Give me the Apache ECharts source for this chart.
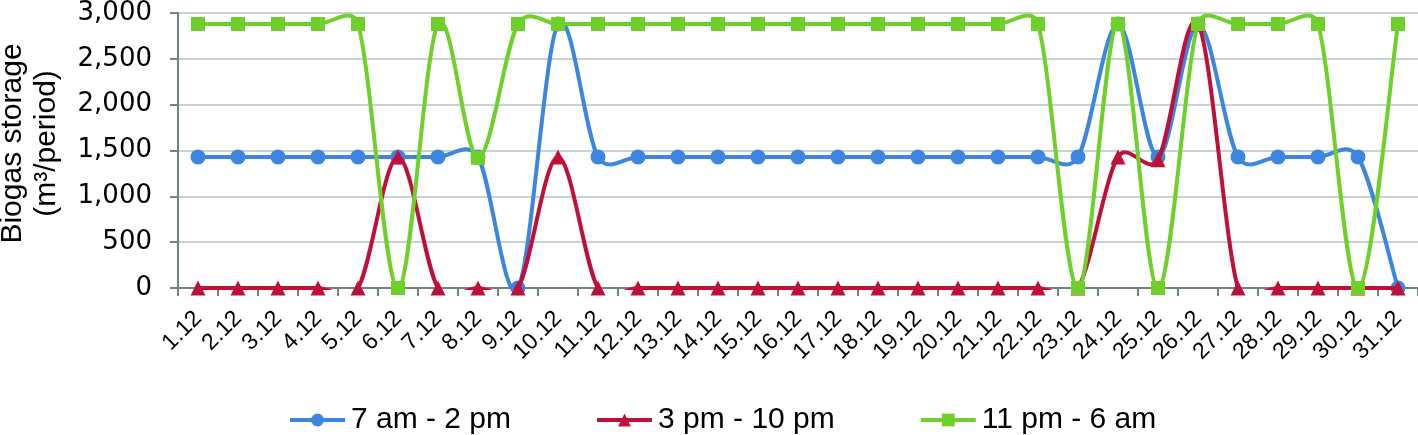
<!DOCTYPE html>
<html>
<head>
<meta charset="utf-8">
<script src="https://cdn.jsdelivr.net/npm/echarts@6/dist/echarts.min.js"></script>
<style>
html,body{margin:0;padding:0;background:#fff;}
#chart{width:1418px;height:435px;}
</style>
</head>
<body>
<div id="chart"></div>
<script>
const categories = ['1.12','2.12','3.12','4.12','5.12','6.12','7.12','8.12','9.12','10.12','11.12','12.12','13.12','14.12','15.12','16.12','17.12','18.12','19.12','20.12','21.12','22.12','23.12','24.12','25.12','26.12','27.12','28.12','29.12','30.12','31.12'];
const seriesNames = ['7 am - 2 pm','3 pm - 10 pm','11 pm - 6 am'];
const morning = [1430,1430,1430,1430,1430,1430,1430,1430,0,2880,1430,1430,1430,1430,1430,1430,1430,1430,1430,1430,1430,1430,1430,2880,1430,2880,1430,1430,1430,1430,0];
const afternoon = [0,0,0,0,0,1430,0,0,0,1430,0,0,0,0,0,0,0,0,0,0,0,0,0,1430,1400,2880,0,0,0,0,0];
const night = [2880,2880,2880,2880,2880,0,2880,1420,2880,2880,2880,2880,2880,2880,2880,2880,2880,2880,2880,2880,2880,2880,0,2880,0,2880,2880,2880,2880,0,2880];
const yTicks = [0,500,1000,1500,2000,2500,3000];

const colors = ['#3d86e0','#c0103a','#70d02a'];
const symbols = ['circle','triangle','rect'];
const symbolSizes = [15,15,14];
const datas = [morning, afternoon, night];

// Excel-like smoothed segment (Bezier, control offsets capped at half the segment)
function makeRender(vals, color){
  return function(params, api){
    const i = params.dataIndex;
    const n = vals.length;
    if (i >= n - 1) return null;
    const P = k => api.coord([Math.max(0, Math.min(n - 1, k)), vals[Math.max(0, Math.min(n - 1, k))]]);
    const p0 = P(i - 1), p1 = P(i), p2 = P(i + 1), p3 = P(i + 2);
    const dist = (a, b) => Math.hypot(a[0] - b[0], a[1] - b[1]);
    const d02 = dist(p0, p2), d12 = dist(p1, p2), d13 = dist(p1, p3);
    let f1 = 1 / 6, f2 = 1 / 6;
    if (d02 / 6 >= d12 / 2) f1 = d02 > 0 ? d12 / (2 * d02) : 0;
    if (d13 / 6 >= d12 / 2) f2 = d13 > 0 ? d12 / (2 * d13) : 0;
    return {
      type: 'bezierCurve',
      shape: {
        x1: p1[0], y1: p1[1], x2: p2[0], y2: p2[1],
        cpx1: p1[0] + (p2[0] - p0[0]) * f1, cpy1: p1[1] + (p2[1] - p0[1]) * f1,
        cpx2: p2[0] - (p3[0] - p1[0]) * f2, cpy2: p2[1] - (p3[1] - p1[1]) * f2
      },
      style: { stroke: color, lineWidth: 4, fill: null, lineCap: 'round' }
    };
  };
}

const series = [];
datas.forEach((d, i) => {
  series.push({
    name: seriesNames[i] + ' (curve)',
    type: 'custom',
    data: d.map((v, k) => [k, v]),
    encode: { x: 0, y: 1 },
    renderItem: makeRender(d, colors[i]),
    clip: true,
    lineStyle: { width: 4 },
    z: 2 + i * 2,
    silent: true
  });
  series.push({
    name: seriesNames[i],
    type: 'line',
    data: d,
    symbol: symbols[i],
    symbolSize: symbolSizes[i],
    showAllSymbol: true,
    z: 3 + i * 2,
    lineStyle: { color: colors[i], width: 4, opacity: 0 },
    itemStyle: { color: colors[i] }
  });
});

const chart = echarts.init(document.getElementById('chart'), null, { renderer: 'canvas' });
const option = {
  animation: false,
  backgroundColor: '#ffffff',
  grid: { left: 178, right: 0, top: 13, bottom: 147, containLabel: false, outerBoundsMode: 'none' },
  legend: {
    top: 400,
    left: 283,
    itemWidth: 55,
    itemHeight: 16,
    itemGap: 84,
    lineStyle: { opacity: 1, width: 4 },
    textStyle: { fontFamily: 'Liberation Sans, Arial, sans-serif', fontSize: 30, color: '#000', padding: [0, 0, 0, 1] },
    data: seriesNames
  },
  xAxis: {
    type: 'category',
    data: categories,
    boundaryGap: true,
    axisLine: { lineStyle: { color: '#708282', width: 2 } },
    axisTick: { show: true, length: 8, lineStyle: { color: '#708282', width: 2 } },
    axisLabel: { rotate: 45, interval: 0, margin: 27, fontFamily: 'Liberation Sans, Arial, sans-serif', fontSize: 23, color: '#000' },
    splitLine: { show: false }
  },
  yAxis: {
    type: 'value',
    min: 0, max: 3000, interval: 500,
    name: 'Biogas storage\n(m³/period)',
    nameLocation: 'middle',
    nameGap: 114,
    nameRotate: 90,
    nameTextStyle: { fontFamily: 'Liberation Sans, Arial, sans-serif', fontSize: 30, color: '#000', lineHeight: 34, padding: [0, 0, 0, 14] },
    axisLine: { show: true, lineStyle: { color: '#708282', width: 2 } },
    axisTick: { show: true, length: 8, lineStyle: { color: '#708282', width: 2 } },
    axisLabel: { margin: 26, fontFamily: 'DejaVu Sans, sans-serif', fontSize: 26, color: '#000',
      formatter: v => v.toLocaleString('en-US') },
    splitLine: { show: true, lineStyle: { color: '#c8d3d3', width: 2 } }
  },
  series: series
};
chart.setOption(option);
</script>
</body>
</html>
